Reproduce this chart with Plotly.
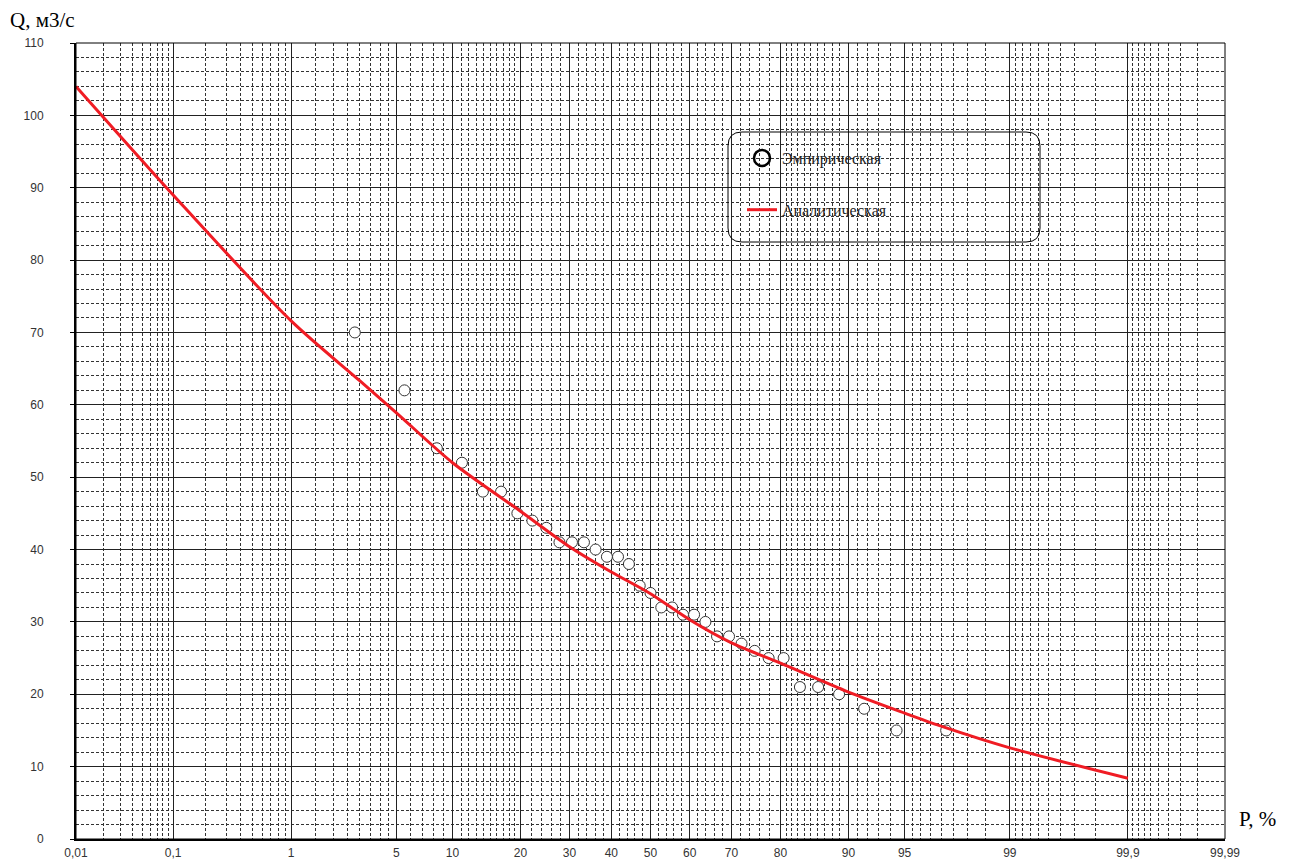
import plotly.graph_objects as go
from statistics import NormalDist

# ---------------- data ----------------
emp_p = [2.78, 5.56, 8.33, 11.11, 13.89, 16.67, 19.44, 22.22, 25.0, 27.78,
         30.56, 33.33, 36.11, 38.89, 41.67, 44.44, 47.22, 50.0, 52.78, 55.56,
         58.33, 61.11, 63.89, 66.67, 69.44, 72.22, 75.0, 77.78, 80.56, 83.33,
         86.11, 88.89, 91.67, 94.44, 97.22]
emp_q = [70, 62, 54, 52, 48, 48, 45, 44, 43, 41,
         41, 41, 40, 39, 39, 38, 35, 34, 32, 32,
         31, 31, 30, 28, 28, 27, 26, 25, 25, 21,
         21, 20, 18, 15, 15]

an_p = [0.01, 0.1, 1, 3, 5, 10, 20, 30, 40, 50, 60, 70, 80, 90, 95, 97, 99, 99.9]
an_q = [104.0, 89.0, 71.6, 63.3, 58.9, 52.0, 45.3, 40.4, 36.9, 33.9, 30.3, 27.1,
        24.3, 20.3, 17.4, 15.6, 12.6, 8.4]

major_p = [0.01, 0.1, 1, 5, 10, 20, 30, 40, 50, 60, 70, 80, 90, 95, 99, 99.9, 99.99]
major_lbl = ["0,01", "0,1", "1", "5", "10", "20", "30", "40", "50", "60", "70",
             "80", "90", "95", "99", "99,9", "99,99"]
minor_p = [0.02, 0.03, 0.04, 0.05, 0.06, 0.07, 0.08, 0.09,
           0.2, 0.3, 0.4, 0.5, 0.6, 0.7, 0.8, 0.9,
           1.5, 2, 2.5, 3, 3.5, 4, 4.5,
           6, 7, 8, 9,
           11, 12, 13, 14, 15, 16, 17, 18, 19,
           22, 24, 26, 28, 32, 34, 36, 38, 42, 44, 46, 48,
           52, 54, 56, 58, 62, 64, 66, 68, 72, 74, 76, 78,
           81, 82, 83, 84, 85, 86, 87, 88, 89,
           91, 92, 93, 94,
           95.5, 96, 96.5, 97, 97.5, 98, 98.5,
           99.1, 99.2, 99.3, 99.4, 99.5, 99.6, 99.7, 99.8,
           99.91, 99.92, 99.93, 99.94, 99.95, 99.96, 99.97, 99.98]

y_ticks = [0, 10, 20, 30, 40, 50, 60, 70, 80, 90, 100, 110]

# ------------- probability scale -------------
nd = NormalDist()
def pz(p):
    return nd.inv_cdf(p / 100.0)

W, H = 1297, 863
L, R, T, B = 76, 72, 43, 24
pw, ph = W - L - R, H - T - B

def px2paper_x(px):
    return (px - L) / pw

def px2paper_y(py):
    return (H - B - py) / ph

fig = go.Figure()

fig.add_trace(go.Scatter(
    x=[pz(p) for p in emp_p], y=emp_q, mode="markers",
    marker=dict(symbol="circle", size=11, color="white",
                line=dict(color="#333333", width=1)),
    name="Эмпирическая", legendgroup="a", showlegend=False,
))
fig.add_trace(go.Scatter(
    x=[pz(p) for p in an_p], y=an_q, mode="lines",
    line=dict(color="#f01c24", width=3, shape="spline", smoothing=0.8),
    name="Аналитическая", legendgroup="b", showlegend=False,
))
# legend entries
fig.add_trace(go.Scatter(
    x=[None], y=[None], mode="markers",
    marker=dict(symbol="circle-open", size=16, color="black",
                line=dict(color="black", width=2.5)),
    name="Эмпирическая", legendgroup="a",
))
fig.add_trace(go.Scatter(
    x=[None], y=[None], mode="lines",
    line=dict(color="#f01c24", width=3),
    name="Аналитическая", legendgroup="b",
))

# rounded legend frame
x0, x1 = px2paper_x(728), px2paper_x(1040)
y0, y1 = px2paper_y(242), px2paper_y(132)
rx, ry = 14 / pw, 14 / ph
path = (f"M {x0+rx},{y1} L {x1-rx},{y1} Q {x1},{y1} {x1},{y1-ry} "
        f"L {x1},{y0+ry} Q {x1},{y0} {x1-rx},{y0} "
        f"L {x0+rx},{y0} Q {x0},{y0} {x0},{y0+ry} "
        f"L {x0},{y1-ry} Q {x0},{y1} {x0+rx},{y1} Z")
fig.add_shape(type="path", path=path, xref="paper", yref="paper",
              line=dict(color="black", width=1), layer="above")

fig.add_annotation(text="Q, м3/с", xref="paper", yref="paper",
                   x=px2paper_x(8), y=px2paper_y(20), xanchor="left", yanchor="middle",
                   showarrow=False,
                   font=dict(family="Liberation Serif", size=21, color="black"))
fig.add_annotation(text="P, %", xref="paper", yref="paper",
                   x=px2paper_x(1237), y=px2paper_y(819), xanchor="left", yanchor="middle",
                   showarrow=False,
                   font=dict(family="Liberation Serif", size=21, color="black"))

zmin, zmax = pz(0.01), pz(99.99)
fig.update_layout(
    width=W, height=H,
    margin=dict(l=L, r=R, t=T, b=B, pad=0, autoexpand=False),
    paper_bgcolor="white", plot_bgcolor="white",
    showlegend=True,
    legend=dict(x=px2paper_x(742), y=px2paper_y(141), xanchor="left", yanchor="top",
                bgcolor="rgba(0,0,0,0)", borderwidth=0, tracegroupgap=28,
                font=dict(family="Liberation Serif", size=16, color="#222222")),
    xaxis=dict(
        range=[zmin, zmax], tickmode="array", automargin=False,
        tickvals=[pz(p) for p in major_p], ticktext=major_lbl,
        showgrid=True, gridcolor="#222222", gridwidth=1,
        zeroline=False, showline=True, linecolor="black", linewidth=2, mirror=False,
        ticks="", tickfont=dict(family="Liberation Sans", size=12, color="#333333"),
        ticklabelstandoff=2,
        minor=dict(tickmode="array", tickvals=[pz(p) for p in minor_p],
                   showgrid=True, gridcolor="#333333", gridwidth=1, griddash="3px,2px",
                   ticks=""),
    ),
    yaxis=dict(
        range=[0, 110], tickmode="array", tickvals=y_ticks, automargin=False,
        showgrid=True, gridcolor="#222222", gridwidth=1,
        zeroline=False, showline=True, linecolor="black", linewidth=2, mirror=False,
        ticks="outside", ticklen=4, tickcolor="black",
        tickfont=dict(family="Liberation Sans", size=12, color="#333333"),
        ticklabelstandoff=24,
        minor=dict(dtick=2, tick0=0, showgrid=True, gridcolor="#333333", gridwidth=1,
                   griddash="3px,2px", ticks=""),
    ),
)
# top and right frame
fig.add_shape(type="rect", xref="paper", yref="paper", x0=0, x1=1, y0=0, y1=1,
              line=dict(color="black", width=1), layer="above")

fig.write_html("out.html")
